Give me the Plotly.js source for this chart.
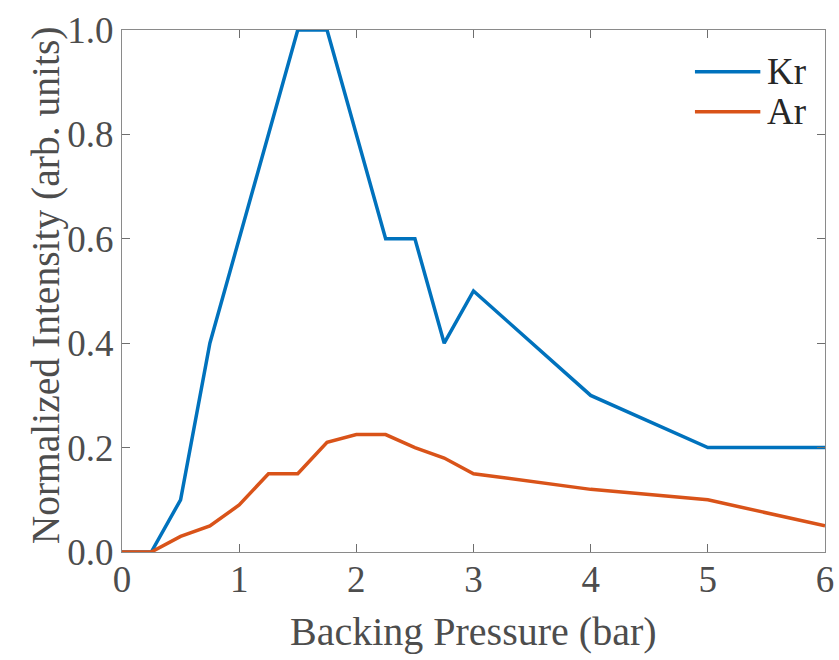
<!DOCTYPE html>
<html><head><meta charset="utf-8">
<script src="https://cdn.plot.ly/plotly-3.0.1.min.js"></script>
<style>body{margin:0;background:#fff}</style>
</head><body><div id="chart" style="width:839px;height:660px"></div>
<script>
const pressure = [0,0.25,0.5,0.75,1,1.25,1.5,1.75,2,2.25,2.5,2.75,3,4,5,6];
const kr = [0,0,0.1,0.4,0.6,0.8,1,1,0.8,0.6,0.6,0.4,0.5,0.3,0.2,0.2];
const ar = [0,0,0.03,0.05,0.09,0.15,0.15,0.21,0.225,0.225,0.2,0.18,0.15,0.12,0.1,0.05];
const seriesNames = ['Kr','Ar'];
const seriesColors = ['#0072BD','#D95319'];
const xTicks = [0,1,2,3,4,5,6];
const yTicks = [0,0.2,0.4,0.6,0.8,1.0];
const yTickText = ['0.0','0.2','0.4','0.6','0.8','1.0'];
const xTitle = 'Backing Pressure (bar)';
const yTitle = 'Normalized Intensity (arb. units)';

const fam = '"Liberation Serif", "Times New Roman", serif';
const textColor = '#4d4d4d';
const axisCommon = {
  showline:true, linecolor:'#8a8a8a', linewidth:1.2, mirror:'ticks',
  ticks:'inside', ticklen:8, tickcolor:'#6e6e6e', tickwidth:1.2,
  showgrid:false, zeroline:false, tickfont:{family:fam, size:37, color:textColor}
};
const data = [
  {x:pressure, y:kr, name:seriesNames[0], mode:'lines', line:{color:seriesColors[0], width:3.5}},
  {x:pressure, y:ar, name:seriesNames[1], mode:'lines', line:{color:seriesColors[1], width:3.5}}
];
const shapes = [], annotations = [];
seriesNames.forEach((n,i)=>{
  const yp = 0.92 - i*0.0766;
  shapes.push({type:'line', xref:'paper', yref:'paper', x0:0.815, x1:0.908, y0:yp, y1:yp,
    line:{color:seriesColors[i], width:3.5}});
  annotations.push({xref:'paper', yref:'paper', x:0.914, y:yp, xanchor:'left', yanchor:'middle',
    text:n, showarrow:false, font:{family:fam, size:37, color:'#262626'}});
});
annotations.push({xref:'paper', yref:'paper', x:0.5, y:-0.153, xanchor:'center', yanchor:'middle',
  text:xTitle, showarrow:false, font:{family:fam, size:40, color:textColor}});
annotations.push({xref:'paper', yref:'paper', x:-0.108, y:0.511, xanchor:'center', yanchor:'middle',
  textangle:-90, text:yTitle, showarrow:false, font:{family:fam, size:39.5, color:textColor}});

const layout = {
  width:839, height:660,
  margin:{l:122, r:14, t:30, b:108},
  paper_bgcolor:'#fff', plot_bgcolor:'#fff',
  showlegend:false, shapes:shapes, annotations:annotations,
  xaxis:Object.assign({}, axisCommon, {range:[0,6], tickvals:xTicks, ticktext:xTicks.map(String),
    ticklabelstandoff:-6}),
  yaxis:Object.assign({}, axisCommon, {range:[0,1], tickvals:yTicks, ticktext:yTickText})
};
Plotly.newPlot('chart', data, layout, {displayModeBar:false, staticPlot:true});
</script></body></html>
